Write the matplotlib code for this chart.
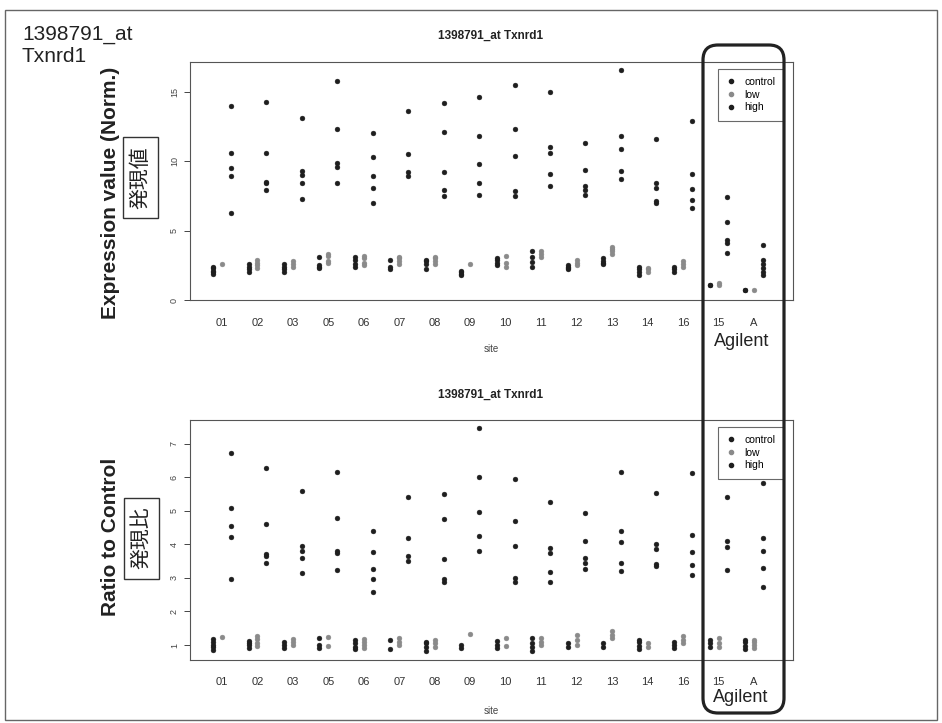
import matplotlib
matplotlib.use("Agg")
import matplotlib.pyplot as plt
from matplotlib.lines import Line2D
from matplotlib.patches import FancyBboxPatch, Rectangle

plt.rcParams['font.family'] = ['Liberation Sans', 'Noto Sans CJK JP', 'DejaVu Sans']

sites = ['01', '02', '03', '05', '06', '07', '08', '09', '10', '11', '12', '13', '14', '16', '15', 'A']
groups = ['control', 'low', 'high']

expr_control = [
    [1.9, 2.0, 2.1, 2.3, 2.4], [2.0, 2.2, 2.4, 2.6], [2.0, 2.2, 2.4, 2.6], [2.3, 2.4, 2.5, 3.1],
    [2.4, 2.6, 2.9, 3.1], [2.2, 2.4, 2.9], [2.2, 2.6, 2.8, 2.9], [1.8, 1.9, 2.0, 2.1],
    [2.5, 2.7, 2.9, 3.0], [2.4, 2.75, 3.1, 3.55], [2.2, 2.3, 2.4, 2.5], [2.6, 2.7, 2.8, 3.0],
    [1.8, 2.0, 2.2, 2.4], [2.0, 2.2, 2.4], [1.05, 1.1], [0.72, 0.75],
]
expr_low = [
    [2.6], [2.3, 2.5, 2.7, 2.9], [2.4, 2.6, 2.8], [2.7, 2.8, 3.2, 3.3],
    [2.5, 2.7, 3.0, 3.2], [2.6, 2.8, 3.0, 3.1], [2.6, 2.8, 3.0, 3.1], [2.6],
    [2.4, 2.7, 3.2], [3.1, 3.3, 3.5], [2.5, 2.7, 2.9], [3.3, 3.5, 3.7, 3.8],
    [2.0, 2.2, 2.3], [2.4, 2.6, 2.8], [1.1, 1.2], [0.72],
]
expr_high = [
    [14.0, 10.6, 9.5, 8.9, 6.3], [14.3, 10.6, 8.5, 8.4, 7.9], [13.1, 9.3, 9.0, 8.4, 7.3],
    [15.8, 12.3, 9.85, 9.6, 8.4], [12.0, 10.3, 8.9, 8.1, 7.0], [13.6, 10.5, 9.25, 8.9],
    [14.2, 12.1, 9.2, 7.9, 7.5], [14.6, 11.8, 9.8, 8.4, 7.6], [15.5, 12.3, 10.4, 7.85, 7.5],
    [15.0, 11.0, 10.6, 9.1, 8.2], [11.3, 9.4, 8.2, 7.9, 7.6], [16.6, 11.85, 10.9, 9.3, 8.7],
    [11.6, 8.4, 8.1, 7.1, 7.0], [12.9, 9.1, 8.0, 7.2, 6.65], [7.4, 5.65, 4.3, 4.1, 3.4],
    [3.96, 2.9, 2.6, 2.3, 2.0, 1.8],
]

ratio_control = [
    [0.85, 0.95, 1.0, 1.1, 1.17], [0.9, 1.0, 1.05, 1.13], [0.9, 1.0, 1.1], [0.9, 1.0, 1.2],
    [0.88, 0.95, 1.05, 1.15], [0.88, 1.15], [0.83, 0.95, 1.05, 1.1], [0.92, 1.0],
    [0.9, 1.0, 1.12], [0.83, 0.95, 1.05, 1.2], [0.95, 1.05], [0.95, 1.05],
    [0.88, 0.98, 1.08, 1.15], [0.9, 1.0, 1.1], [0.95, 1.05, 1.15], [0.88, 0.98, 1.08, 1.15],
]
ratio_low = [
    [1.25], [0.97, 1.07, 1.17, 1.27], [1.0, 1.1, 1.17], [0.98, 1.25],
    [0.9, 1.0, 1.1, 1.18], [1.0, 1.1, 1.2], [0.95, 1.05, 1.15], [1.33],
    [0.97, 1.2], [1.0, 1.1, 1.2], [1.0, 1.15, 1.3], [1.2, 1.3, 1.42],
    [0.95, 1.05], [1.05, 1.15, 1.27], [0.95, 1.05, 1.2], [0.9, 1.0, 1.1, 1.15],
]
ratio_high = [
    [6.72, 5.08, 4.54, 4.22, 2.98], [6.26, 4.59, 3.71, 3.65, 3.43], [5.58, 3.96, 3.81, 3.6, 3.13],
    [6.14, 4.79, 3.81, 3.73, 3.23], [4.39, 3.78, 3.25, 2.98, 2.59], [5.41, 4.19, 3.66, 3.5],
    [5.51, 4.74, 3.55, 2.98, 2.88], [7.47, 6.01, 4.97, 4.24, 3.81], [5.93, 4.69, 3.95, 3.0, 2.87],
    [5.25, 3.88, 3.75, 3.18, 2.88], [4.92, 4.1, 3.58, 3.45, 3.25], [6.16, 4.39, 4.06, 3.43, 3.2],
    [5.53, 4.0, 3.85, 3.41, 3.35], [6.11, 4.27, 3.76, 3.38, 3.08], [5.41, 4.1, 3.93, 3.23],
    [5.81, 4.19, 3.81, 3.28, 2.72],
]

expr_yticks = [0, 5, 10, 15]
ratio_yticks = [1, 2, 3, 4, 5, 6, 7]

colors = {'control': '#1e1e1e', 'low': '#8a8a8a', 'high': '#1e1e1e'}
offsets = {'control': -0.25, 'low': 0.0, 'high': 0.25}

W, H = 942, 723
fig = plt.figure(figsize=(W / 100, H / 100), dpi=100)
fig.patch.set_facecolor('white')


def px_axes(l, t, r, b):
    return fig.add_axes([l / W, 1 - b / H, (r - l) / W, (b - t) / H])


def draw_panel(ax, ctrl, low, high, yticks, ylim, xpad):
    data = {'control': ctrl, 'low': low, 'high': high}
    for g in groups:
        for i, vals in enumerate(data[g]):
            ax.plot([i + offsets[g]] * len(vals), vals, ls='none', marker='o',
                    ms=3.5, mec=colors[g], mfc=colors[g], mew=0.3)
    ax.set_xlim(-0.9, 16.1)
    ax.set_ylim(*ylim)
    ax.set_xticks(range(len(sites)))
    ax.set_xticklabels(sites, fontsize=8, color='#333')
    ax.tick_params(axis='x', length=0, pad=xpad)
    ax.set_yticks(yticks)
    ax.set_yticklabels([str(v) for v in yticks], rotation=90, va='center',
                       fontsize=6.5, color='#444')
    ax.tick_params(axis='y', length=4, width=0.7, color='#444', pad=4)
    for s in ax.spines.values():
        s.set_linewidth(0.8)
        s.set_color('#555')
    handles = [Line2D([], [], ls='none', marker='o', ms=3, mec=colors[g], mfc=colors[g])
               for g in groups]
    ax.legend(handles, groups, loc='upper left', bbox_to_anchor=(0.876, 0.972),
              fontsize=7.5, frameon=True, fancybox=False, edgecolor='#444',
              borderpad=0.8, handletextpad=0.9, labelspacing=0.25, handlelength=0.8,
              borderaxespad=0)
    ax.get_legend().get_frame().set_linewidth(0.8)


ax1 = px_axes(190, 62, 793, 300)
draw_panel(ax1, expr_control, expr_low, expr_high, expr_yticks, (0, 17.15), 13)
ax2 = px_axes(190, 420, 793, 660)
draw_panel(ax2, ratio_control, ratio_low, ratio_high, ratio_yticks, (0.554, 7.70), 12)

ov = fig.add_axes([0, 0, 1, 1], zorder=10)
ov.set_xlim(0, W)
ov.set_ylim(H, 0)
ov.axis('off')
ov.patch.set_alpha(0)

ov.add_patch(Rectangle((5, 10), 932, 710, fill=False, lw=1.0, ec='#666'))

ov.text(22, 34, '1398791_at', fontsize=15, ha='left', va='center', color='#222')
ov.text(22, 57, 'Txnrd1', fontsize=15, ha='left', va='center', color='#222')

for y in (36, 395):
    ov.text(491, y, '1398791_at Txnrd1', fontsize=8.5, fontweight='bold',
            ha='center', va='center', color='#222')
for y in (349, 711):
    ov.text(491, y, 'site', fontsize=7, ha='center', va='center', color='#444')

ov.text(111, 193, 'Expression value (Norm.)', fontsize=15, fontweight='bold',
        rotation=90, ha='center', va='center', color='#222')
ov.text(111, 537, 'Ratio to Control', fontsize=15, fontweight='bold',
        rotation=90, ha='center', va='center', color='#222')

for (cx, cy, s) in ((140.5, 177.5, '発現値'), (141.5, 538, '発現比')):
    ov.add_patch(Rectangle((cx - 17.5, cy - 40.5), 35, 81, fc='white', ec='#333', lw=1.0))
    ov.text(cx, cy, s, fontsize=15, rotation=90, ha='center', va='center',
            color='#222', family=['Noto Sans CJK JP'])

ov.add_patch(FancyBboxPatch((703, 45), 81, 668, boxstyle='round,pad=0,rounding_size=15',
                            fc='none', ec='#222', lw=2.3))
ov.text(742, 341, 'Agilent', fontsize=13, ha='center', va='center', color='#222')
ov.text(741, 697, 'Agilent', fontsize=13, ha='center', va='center', color='#222')

fig.savefig('out.png', dpi=100)
